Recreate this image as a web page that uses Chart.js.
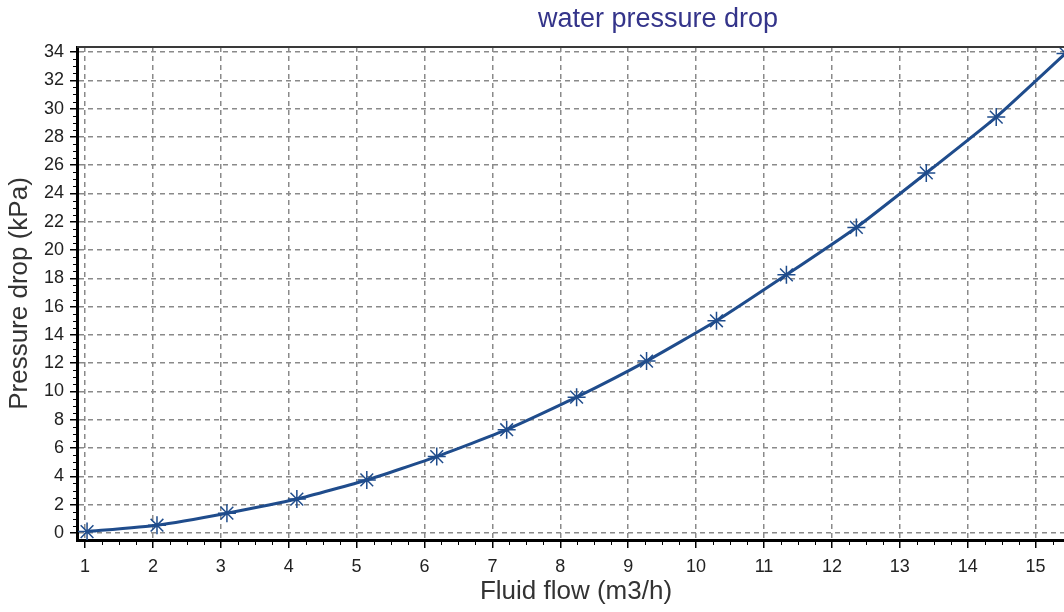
<!DOCTYPE html>
<html>
<head>
<meta charset="utf-8">
<script src="https://cdn.jsdelivr.net/npm/chart.js@4.4.1/dist/chart.umd.min.js"></script>
<style>
  html, body { margin: 0; padding: 0; background: #fff; overflow: hidden; }
  #wrap { width: 1064px; height: 612px; overflow: hidden; position: relative; }
  canvas { display: block; }
</style>
</head>
<body>
<div id="wrap"><canvas id="c" width="1316" height="612"></canvas></div>
<script>
// ---- data ----
const flow = [1.03, 2.06, 3.09, 4.12, 5.15, 6.18, 7.21, 8.24, 9.27, 10.30, 11.33, 12.36, 13.39, 14.42, 15.44];
const pressureDrop = [0.1, 0.55, 1.4, 2.4, 3.75, 5.4, 7.3, 9.6, 12.15, 15.0, 18.25, 21.6, 25.45, 29.4, 33.9];
const xTickValues = [1, 2, 3, 4, 5, 6, 7, 8, 9, 10, 11, 12, 13, 14, 15];
const yTickValues = [0, 2, 4, 6, 8, 10, 12, 14, 16, 18, 20, 22, 24, 26, 28, 30, 32, 34];

const chartTitle = 'water pressure drop';
const xTitle = 'Fluid flow (m3/h)';
const yTitle = 'Pressure drop (kPa)';

const FONT = "'Liberation Sans', Arial, sans-serif";
const LINE_COLOR = '#1f4c8c';

const points = flow.map((f, i) => ({ x: f, y: pressureDrop[i] }));

const frame = {
  id: 'frame',
  afterDraw(chart) {
    const { ctx, chartArea: a, scales: { x, y } } = chart;
    ctx.save();
    // top border
    ctx.strokeStyle = '#3a3a3a';
    ctx.lineWidth = 2;
    ctx.beginPath();
    ctx.moveTo(a.left, a.top);
    ctx.lineTo(a.right, a.top);
    ctx.stroke();
    // minor ticks
    ctx.strokeStyle = '#000';
    ctx.lineWidth = 1;
    ctx.beginPath();
    for (let k = Math.ceil(x.min * 4); k / 4 <= x.max; k++) {
      if (k % 4 === 0) continue;
      const px = Math.round(x.getPixelForValue(k / 4)) + 0.5;
      ctx.moveTo(px, a.bottom);
      ctx.lineTo(px, a.bottom + 5);
    }
    for (let k = Math.ceil(y.min * 2); k / 2 <= y.max; k++) {
      if (k % 4 === 0) continue;
      const py = Math.round(y.getPixelForValue(k / 2)) + 0.5;
      ctx.moveTo(a.left, py);
      ctx.lineTo(a.left - 4, py);
    }
    ctx.stroke();
    ctx.restore();
  }
};

new Chart(document.getElementById('c'), {
  type: 'scatter',
  data: {
    datasets: [{
      data: points,
      showLine: true,
      borderColor: LINE_COLOR,
      backgroundColor: LINE_COLOR,
      borderWidth: 3,
      tension: 0.15,
      pointStyle: 'star',
      pointRadius: 9,
      pointBorderWidth: 1.5,
      pointBorderColor: LINE_COLOR,
      pointHoverRadius: 9
    }]
  },
  options: {
    responsive: false,
    animation: false,
    devicePixelRatio: 1,
    layout: { padding: 0 },
    plugins: {
      legend: { display: false },
      tooltip: { enabled: false },
      title: {
        display: true,
        text: chartTitle,
        color: '#34348a',
        font: { family: FONT, size: 27, weight: 'normal', lineHeight: 1.2 },
        padding: { top: 3, bottom: 11.6 }
      }
    },
    scales: {
      x: {
        type: 'linear',
        min: 0.882,
        max: 15.58,
        afterFit: (s) => { s.height = 72; },
        afterBuildTicks: (s) => { s.ticks = xTickValues.map(v => ({ value: v })); },
        ticks: {
          includeBounds: false,
          color: '#222',
          font: { family: FONT, size: 18 },
          padding: 8,
          maxRotation: 0
        },
        grid: {
          color: '#8a8a8a',
          lineWidth: 1.5,
          tickLength: 8,
          tickColor: '#000',
          tickWidth: 1.5
        },
        border: { display: true, color: '#000', width: 3, dash: [5, 4] },
        title: {
          display: true,
          text: xTitle,
          color: '#333',
          font: { family: FONT, size: 26, lineHeight: 1.2 },
          padding: { top: 0, bottom: 5 }
        }
      },
      y: {
        type: 'linear',
        min: -0.495,
        max: 34.353,
        afterFit: (s) => { s.width = 77; },
        afterBuildTicks: (s) => { s.ticks = yTickValues.map(v => ({ value: v })); },
        ticks: {
          includeBounds: false,
          color: '#222',
          font: { family: FONT, size: 18 },
          padding: 6
        },
        grid: {
          color: '#8a8a8a',
          lineWidth: 1.5,
          tickLength: 7,
          tickColor: '#000',
          tickWidth: 1.5
        },
        border: { display: true, color: '#000', width: 3, dash: [5, 4] },
        title: {
          display: true,
          text: yTitle,
          color: '#333',
          font: { family: FONT, size: 26, lineHeight: 1.2 },
          padding: { top: 4, bottom: 0 }
        }
      },
      yRight: {
        type: 'linear',
        position: 'right',
        min: 0,
        max: 1,
        afterFit: (s) => { s.width = 241; },
        ticks: { display: false },
        grid: { display: false, drawTicks: false },
        border: { display: false },
        title: { display: false }
      }
    }
  },
  plugins: [frame]
});
</script>
</body>
</html>
